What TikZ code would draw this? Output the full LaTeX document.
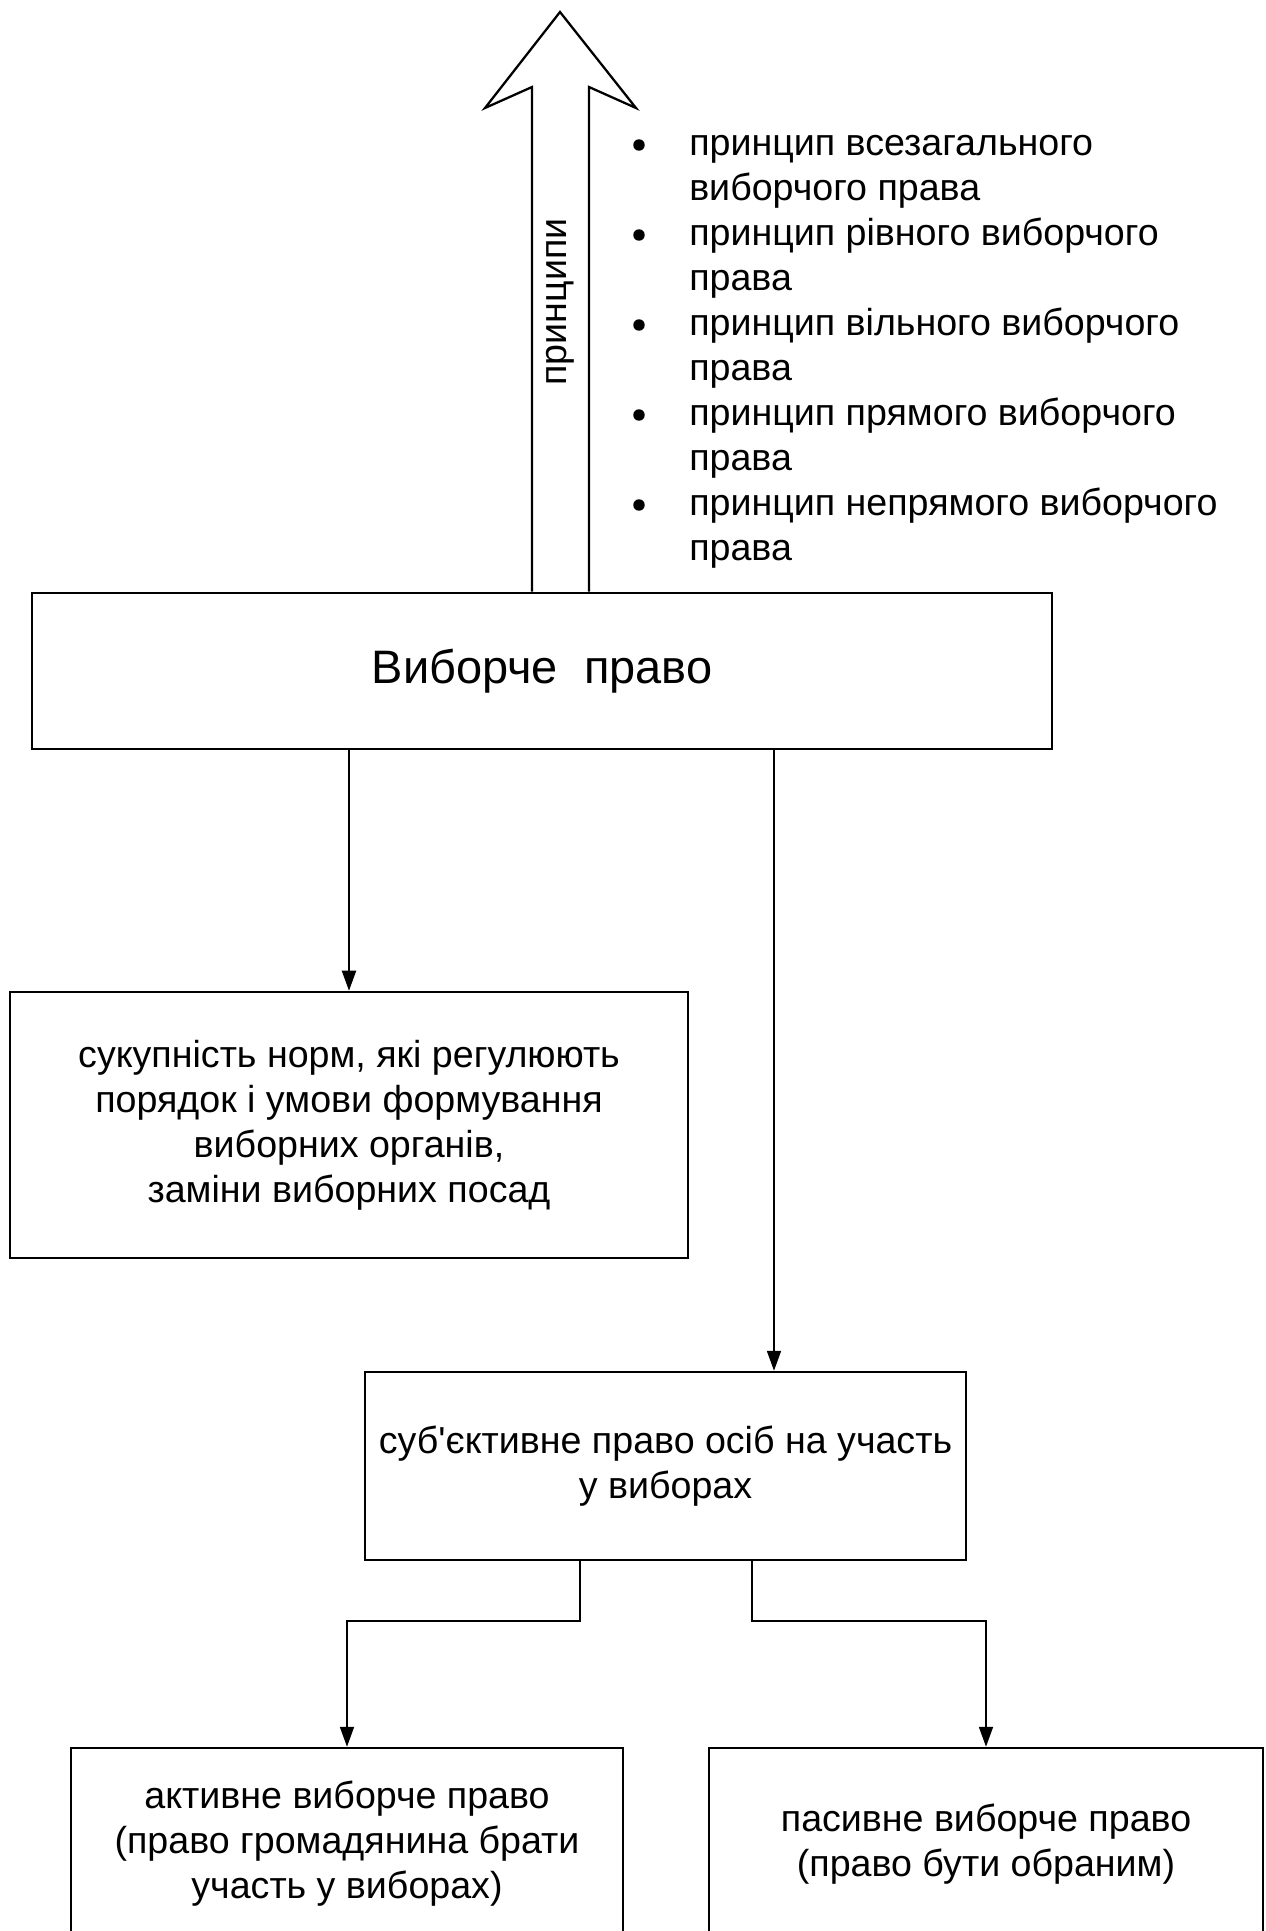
\documentclass[tikz,border=0pt]{standalone}
\usepackage{fontspec}
\newfontfamily\arialfont{Liberation Sans}
\usepackage{tikz}
\usetikzlibrary{arrows.meta,calc}
\newcommand\txtfont{\arialfont\fontsize{28.2}{33.7}\selectfont}
\newcommand\bigfont{\arialfont\fontsize{35.2}{42}\selectfont}
\tikzset{
  box/.style={draw=black,line width=1.9pt,fill=white,align=center,inner sep=0pt,font=\txtfont},
  ar/.style={-{Triangle[length=15pt,width=10.5pt]},draw=black,line width=1.5pt},
  bigarrow/.style={draw=black,line width=1.7pt,line join=miter},
  princ/.style={anchor=base west,align=left,inner sep=0pt,font=\txtfont},
}

\begin{document}
\begin{tikzpicture}[x=0.75pt,y=-0.75pt]
  \clip (0,0) rectangle (1266,1931);
  \node[box,font=\bigfont,minimum width=765pt,minimum height=117pt] (pravo) at (542,671) {Виборче\ \ право};
  \node[box,minimum width=508.5pt,minimum height=199.5pt] (norms) at (349,1125)
    {сукупність норм, які регулюють\\порядок і умови формування\\виборних органів,\\заміни виборних посад};
  \node[box,minimum width=450.75pt,minimum height=141pt] (subj) at (665.5,1466)
    {суб'єктивне право осіб на участь\\у виборах};
  \node[box,minimum width=414pt,minimum height=144pt] (active) at (347,1844)
    {активне виборче право\\(право громадянина брати\\участь у виборах)};
  \node[box,minimum width=415.5pt,minimum height=144pt] (passive) at (986,1844)
    {пасивне виборче право\\(право бути обраним)};

  \path (560,12) coordinate (tip) (532,87) coordinate (shl) (589,87) coordinate (shr);
  \draw[bigarrow] (shl |- pravo.north) -- (shl) -- (485,108) -- (tip) -- (636,108) -- (shr) -- (shr |- pravo.north);
  \node[rotate=90,inner sep=0pt,font=\txtfont] (pryntsypy) at (560,302) {принципи};

  \foreach \y/\a/\b in {155/{принцип всезагального}/{виборчого права},
                        245/{принцип рівного виборчого}/{права},
                        335/{принцип вільного виборчого}/{права},
                        425/{принцип прямого виборчого}/{права},
                        515/{принцип непрямого виборчого}/{права}} {
     \fill (639,\y-10) circle (4.3pt);
     \node[princ] (item\y) at (689,\y+45) {\a\\\b};
  }

  \coordinate (c1) at (774,0);
  \draw[ar] (norms.north |- pravo.south) -- (norms.north);
  \draw[ar] (c1 |- pravo.south) -- (c1 |- subj.north);
  \draw[ar] ($(subj.south)+(-86,0)$) -- ++(0,60) -| (active.north);
  \draw[ar] ($(subj.south)+(86,0)$) -- ++(0,60) -| (passive.north);
\end{tikzpicture}
\end{document}
